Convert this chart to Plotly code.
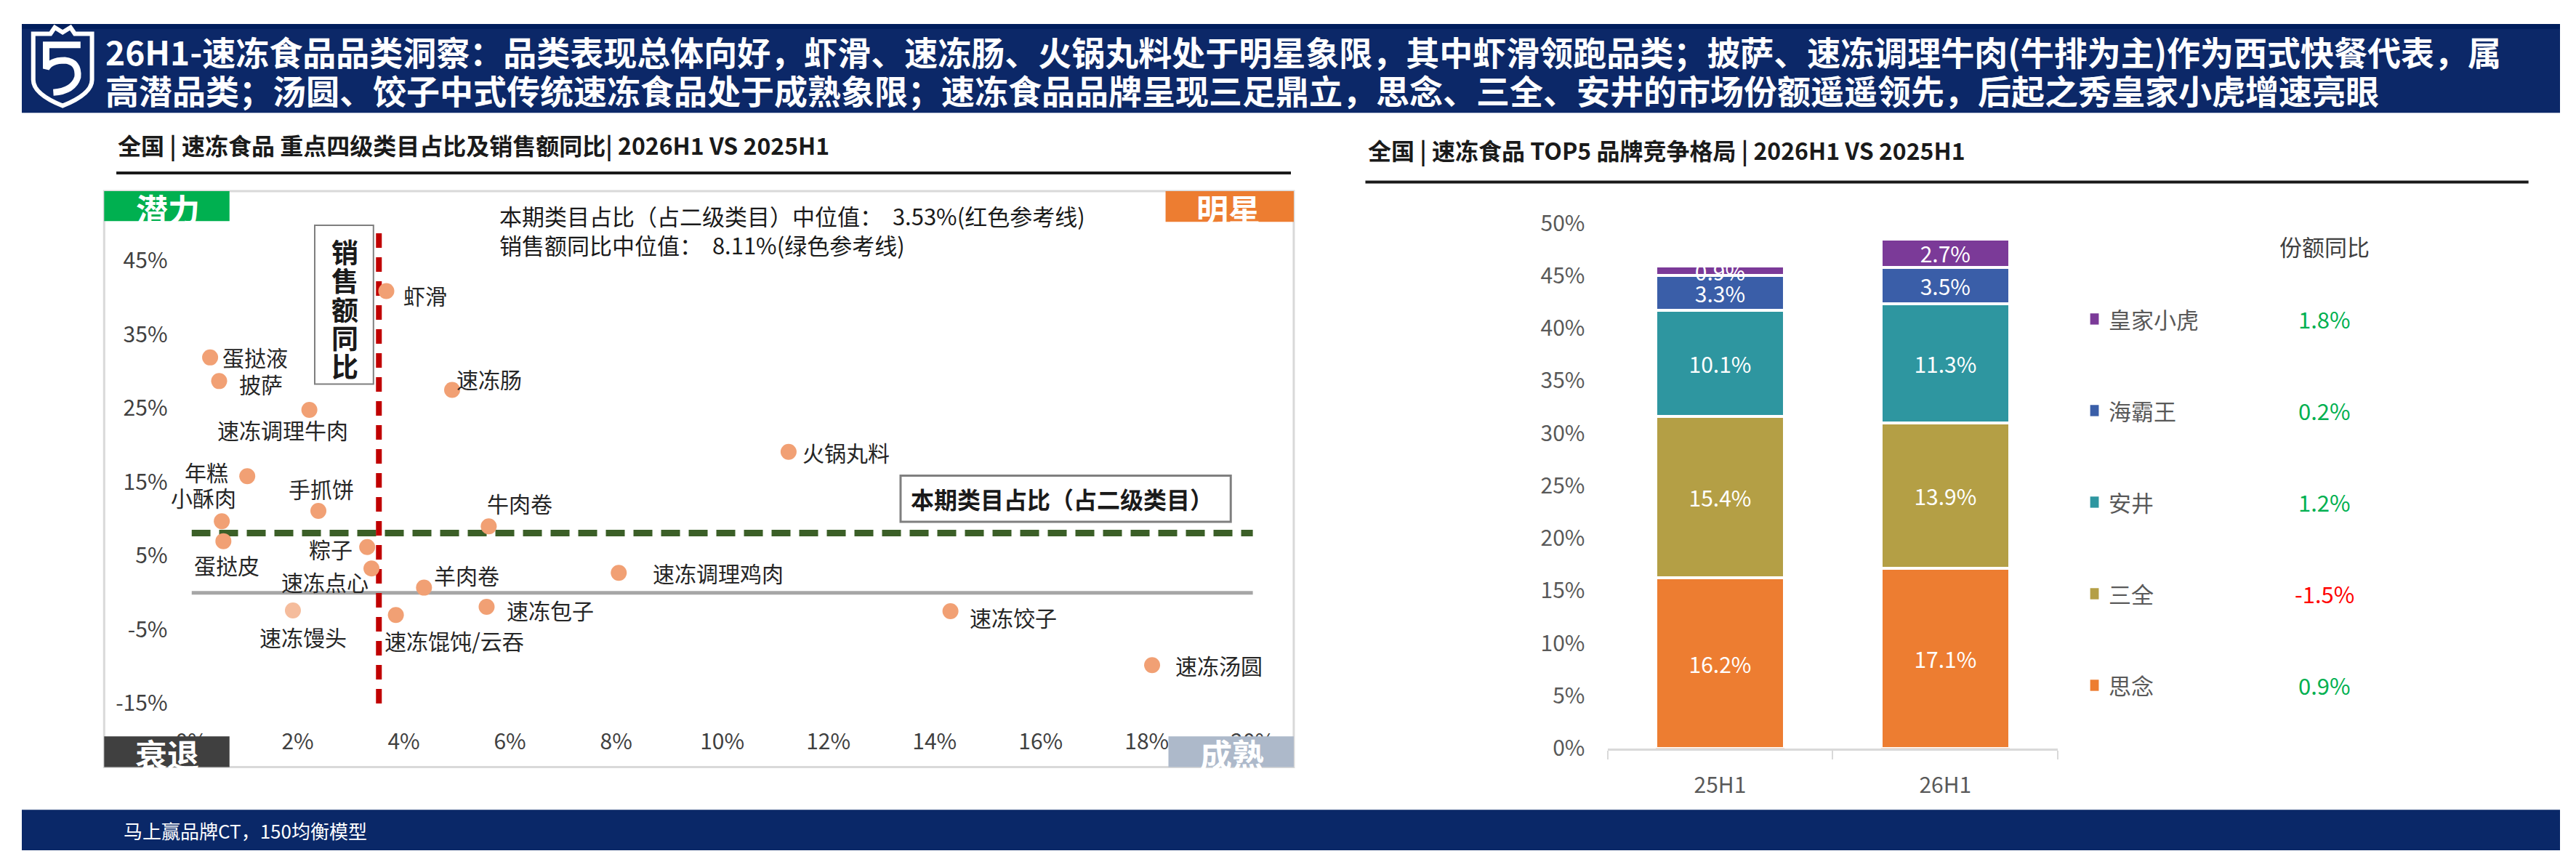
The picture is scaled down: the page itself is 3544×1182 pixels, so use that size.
import plotly.graph_objects as go

W, H = 3544, 1182
FONT = "Noto Sans CJK SC"

# ---- left chart: category share vs sales yoy (in %) ----
cat_names = ["虾滑", "蛋挞液", "披萨", "速冻调理牛肉", "速冻肠", "年糕", "手抓饼", "小酥肉",
             "蛋挞皮", "牛肉卷", "粽子", "速冻点心", "羊肉卷", "速冻调理鸡肉", "速冻包子",
             "速冻馄饨/云吞", "速冻馒头", "火锅丸料", "速冻饺子", "速冻汤圆"]
cat_share = [3.67, 0.35, 0.52, 2.22, 4.91, 1.05, 2.39, 0.57,
             0.60, 5.60, 3.31, 3.39, 4.38, 8.05, 5.56,
             3.85, 1.91, 11.25, 14.3, 18.1]
cat_yoy = [40.9, 31.9, 28.7, 24.8, 27.5, 15.8, 11.1, 9.7,
           7.0, 9.0, 6.2, 3.3, 0.7, 2.7, -1.9,
           -3.0, -2.4, 19.1, -2.5, -9.8]
share_median = 3.53
yoy_median = 8.11
x_ticks = [0, 2, 4, 6, 8, 10, 12, 14, 16, 18, 20]
y_ticks = [-15, -5, 5, 15, 25, 35, 45]

# ---- right chart: top5 brand share (in %) ----
periods = ["25H1", "26H1"]
brands = ["思念", "三全", "安井", "海霸王", "皇家小虎"]
siniang = [16.2, 17.1]
sanquan = [15.4, 13.9]
anjing = [10.1, 11.3]
haibawang = [3.3, 3.5]
huangjia = [0.9, 2.7]
share_yoy = [0.9, -1.5, 1.2, 0.2, 1.8]
brand_colors = ["#ED7D31", "#B49F45", "#2E96A0", "#3A5EA8", "#7B3A98"]

# label placement for scatter labels: anchor, dx, dy (pixels, dy down)
label_pos = {
    "虾滑": ("left", 22, 6), "蛋挞液": ("left", 15, -1), "披萨": ("left", 26, 4),
    "速冻调理牛肉": ("center", -37, 27), "速冻肠": ("left", 4, -16), "年糕": ("right", -24, -6),
    "手抓饼": ("center", 4, -31), "小酥肉": ("center", -25, -33), "蛋挞皮": ("center", 5, 32),
    "牛肉卷": ("center", 43, -32), "粽子": ("right", -18, 2), "速冻点心": ("right", -2, 18),
    "羊肉卷": ("left", 12, -18), "速冻调理鸡肉": ("left", 45, 0), "速冻包子": ("left", 26, 4),
    "速冻馄饨/云吞": ("left", -18, 35), "速冻馒头": ("center", 14, 36), "火锅丸料": ("left", 17, 0),
    "速冻饺子": ("left", 24, 8), "速冻汤圆": ("left", 30, 0),
}


def px(x):
    return x / W


def py(y):
    return 1 - y / H


shapes = []
annotations = []


def rect(x0, y0, x1, y1, fill=None, line_color=None, line_width=0, layer="above"):
    shapes.append(dict(type="rect", xref="paper", yref="paper",
                       x0=px(x0), x1=px(x1), y0=py(y1), y1=py(y0),
                       fillcolor=fill if fill else "rgba(0,0,0,0)",
                       line=dict(color=line_color if line_color else "rgba(0,0,0,0)", width=line_width),
                       layer=layer))


def text(x, y, s, size, color="#262626", xanchor="center", bold=False):
    annotations.append(dict(xref="paper", yref="paper", x=px(x), y=py(y), text="<b>%s</b>" % s if bold else s,
                            showarrow=False, xanchor=xanchor, yanchor="middle",
                            font=dict(family=FONT, size=size, color=color)))


fig = go.Figure()

# scatter points
point_colors = ["#F5BC9C" if n == "速冻馒头" else "#F1A074" for n in cat_names]
fig.add_trace(go.Scatter(x=cat_share, y=cat_yoy, mode="markers", xaxis="x", yaxis="y",
                         marker=dict(size=22, color=point_colors), cliponaxis=False,
                         showlegend=False, hoverinfo="skip"))
for n, xv, yv in zip(cat_names, cat_share, cat_yoy):
    anchor, dx, dy = label_pos[n]
    annotations.append(dict(xref="x", yref="y", x=xv, y=yv, text=n, showarrow=False,
                            xanchor=anchor, yanchor="middle", xshift=dx, yshift=-dy,
                            font=dict(family=FONT, size=30, color="#262626")))

# reference lines
shapes.append(dict(type="line", xref="x", yref="y", x0=0, x1=20, y0=0, y1=0,
                   line=dict(color="#A6A6A6", width=5), layer="below"))
shapes.append(dict(type="line", xref="x", yref="y", x0=0, x1=20, y0=yoy_median, y1=yoy_median,
                   line=dict(color="#3B5F27", width=9, dash="26px,12px"), layer="below"))
shapes.append(dict(type="line", xref="x", yref="y", x0=share_median, x1=share_median, y0=-15, y1=50,
                   line=dict(color="#C00000", width=8, dash="20px,13px"), layer="below"))

# stacked bars
for b, vals, c in zip(brands, [siniang, sanquan, anjing, haibawang, huangjia], brand_colors):
    fig.add_trace(go.Bar(x=periods, y=vals, name=b, xaxis="x2", yaxis="y2", width=0.57,
                         marker=dict(color=c, line=dict(color="white", width=4)),
                         texttemplate="%{y:.1f}%", textposition="inside", insidetextanchor="middle",
                         textangle=0, textfont=dict(family=FONT, size=30, color="white"),
                         showlegend=False, hoverinfo="skip"))

# header / footer bands
rect(0, 0, W, 127, fill="#0C2868", layer="below")
rect(0, 0, W, 7, fill="#001E5C", layer="below")
rect(0, 1124, W, H, fill="#0A2868", layer="below")

# logo, rough shield
def P(x, y):
    return "%f,%f" % (px(x), py(y))

shield = ("M " + P(16, 14) + " L " + P(40, 14) + " L " + P(46, 5) + " L " + P(57, 12) + " L " + P(68, 5)
          + " L " + P(74, 14) + " L " + P(98, 14) + " L " + P(98, 80) + " Q " + P(98, 100) + " " + P(57, 117)
          + " Q " + P(16, 100) + " " + P(16, 80) + " Z")
shapes.append(dict(type="path", xref="paper", yref="paper", path=shield,
                   line=dict(color="white", width=6)))
s_curve = ("M " + P(82, 30) + " L " + P(34, 30) + " L " + P(34, 64) + " Q " + P(40, 52) + " " + P(60, 52)
           + " Q " + P(80, 54) + " " + P(78, 76) + " Q " + P(72, 96) + " " + P(44, 98))
shapes.append(dict(type="path", xref="paper", yref="paper", path=s_curve,
                   line=dict(color="white", width=9)))

text(115, 38, "26H1-速冻食品品类洞察：品类表现总体向好，虾滑、速冻肠、火锅丸料处于明星象限，其中虾滑领跑品类；"
     "披萨、速冻调理牛肉(牛排为主)作为西式快餐代表，属", 46, "white", "left", True)
text(115, 94, "高潜品类；汤圆、饺子中式传统速冻食品处于成熟象限；速冻食品品牌呈现三足鼎立，思念、三全、安井的市场份额遥遥领先，"
     "后起之秀皇家小虎增速亮眼", 46, "white", "left", True)
text(140, 1153, "马上赢品牌CT，150均衡模型", 26, "white", "left")

# section titles
text(132, 173, "全国 | 速冻食品 重点四级类目占比及销售额同比| 2026H1 VS 2025H1", 32, "#1A1A1A", "left", True)
shapes.append(dict(type="line", xref="paper", yref="paper", x0=px(132), x1=px(1772), y0=py(213), y1=py(213),
                   line=dict(color="#1A1A1A", width=4)))
text(1878, 180, "全国 | 速冻食品 TOP5 品牌竞争格局 | 2026H1 VS 2025H1", 32, "#1A1A1A", "left", True)
shapes.append(dict(type="line", xref="paper", yref="paper", x0=px(1876), x1=px(3500), y0=py(226), y1=py(226),
                   line=dict(color="#1A1A1A", width=4)))

# left chart frame and quadrant tags
rect(115, 239, 1776, 1063, line_color="#D9D9D9", line_width=3, layer="below")
rect(115, 239, 290, 282, fill="#00B050")
rect(1597, 239, 1776, 283, fill="#ED7D31")
rect(115, 1019, 290, 1063, fill="#404040")
rect(1601, 1019, 1776, 1063, fill="#ADB9CA")
text(204, 264, "潜力", 44, "white", bold=True)
text(1685, 264, "明星", 44, "white", bold=True)
text(203, 1044, "衰退", 44, "white", bold=True)
text(1690, 1044, "成熟", 44, "white", bold=True)

text(665, 274, "本期类目占比（占二级类目）中位值：  %.2f%%(红色参考线)" % share_median, 31, "#1A1A1A", "left")
text(665, 316, "销售额同比中位值：  %.2f%%(绿色参考线)" % yoy_median, 31, "#1A1A1A", "left")

# axis title boxes
rect(409, 288, 491, 515, fill="white", line_color="#7F7F7F", line_width=2)
for i, ch in enumerate("销售额同比"):
    text(451, 325 + i * 41, ch, 37, "#1A1A1A", bold=True)
rect(1227, 646, 1688, 712, fill="white", line_color="#7F7F7F", line_width=3)
text(1452, 679, "本期类目占比（占二级类目）", 32, "#1A1A1A", bold=True)

# right legend and share yoy column
text(3215, 318, "份额同比", 31, "#404040")
for i, (b, c, g) in enumerate(list(zip(brands, brand_colors, share_yoy))[::-1]):
    yy = 422 + i * 131
    rect(2888, yy - 8, 2900, yy + 8, fill=c)
    text(2912, yy, b, 31, "#595959", "left")
    text(3215, yy, "%.1f%%" % g, 31, "#00B050" if g >= 0 else "#FF0000")

fig.update_layout(
    width=W, height=H, margin=dict(l=0, r=0, t=0, b=0),
    paper_bgcolor="white", plot_bgcolor="rgba(0,0,0,0)",
    barmode="stack", bargap=0.43,
    uniformtext=dict(mode="show", minsize=30),
    shapes=shapes, annotations=annotations,
    font=dict(family=FONT),
    xaxis=dict(domain=[px(237), px(1719)], range=[0, 20], tickmode="array", tickvals=x_ticks,
               ticktext=["%d%%" % v for v in x_ticks],
               showgrid=False, zeroline=False, showline=False, ticklabelstandoff=32,
               tickfont=dict(family=FONT, size=30, color="#404040"), fixedrange=True),
    yaxis=dict(domain=[py(972), py(286)], range=[-15, 50], tickmode="array", tickvals=y_ticks,
               ticktext=["%d%%" % v for v in y_ticks],
               showgrid=False, zeroline=False, showline=False, ticklabelstandoff=32,
               tickfont=dict(family=FONT, size=30, color="#404040"), fixedrange=True),
    xaxis2=dict(domain=[px(2214), px(2843)], range=[-0.5, 1.5], type="category", anchor="y2",
                showline=True, linecolor="#D9D9D9", linewidth=3, ticks="outside", tickson="boundaries",
                ticklen=12, tickwidth=2, tickcolor="#D9D9D9", ticklabelstandoff=22,
                tickfont=dict(family=FONT, size=30, color="#595959")),
    yaxis2=dict(domain=[py(1036), py(285)], range=[0, 50], dtick=5, ticksuffix="%", anchor="x2",
                showgrid=False, zeroline=False, ticklabelstandoff=30,
                tickfont=dict(family=FONT, size=30, color="#595959")),
)

fig.write_html("out.html")
